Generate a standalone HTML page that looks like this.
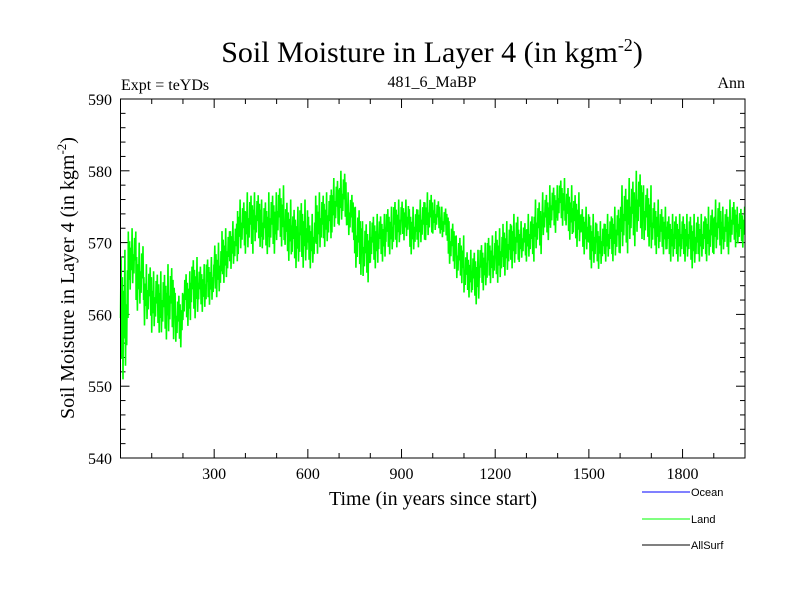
<!DOCTYPE html>
<html><head><meta charset="utf-8"><style>
body{margin:0;background:#fff}
svg{display:block}
text{font-family:"Liberation Serif",serif;fill:#000}
text.sans{font-family:"Liberation Sans",sans-serif}
</style></head><body>
<svg id="chart" width="800" height="600">
<text x="432" y="62" font-size="30" text-anchor="middle">Soil Moisture in Layer 4 (in kgm<tspan dy="-11" font-size="18">-2</tspan><tspan dy="11">)</tspan></text>
<text x="121" y="90" font-size="16">Expt = teYDs</text>
<text x="432" y="87" font-size="16" text-anchor="middle">481_6_MaBP</text>
<text x="745" y="88" font-size="16" text-anchor="end">Ann</text>
<text transform="translate(74,278) rotate(-90)" font-size="20" text-anchor="middle">Soil Moisture in Layer 4 (in kgm<tspan dy="-8" font-size="13">-2</tspan><tspan dy="8">)</tspan></text>
<text x="433" y="505" font-size="20" text-anchor="middle">Time (in years since start)</text>
<g id="axes"></g>
<g id="series"></g>
<rect x="120.5" y="99" width="624.5" height="359" fill="none" stroke="#000" stroke-width="1"/>
<g>
<line x1="642" y1="492" x2="690" y2="492" stroke="#0000ff"/>
<text class="sans" x="691" y="496" font-size="11">Ocean</text>
<line x1="642" y1="519" x2="690" y2="519" stroke="#00ff00"/>
<text class="sans" x="691" y="523" font-size="11">Land</text>
<line x1="642" y1="545" x2="690" y2="545" stroke="#000"/>
<text class="sans" x="691" y="549" font-size="11">AllSurf</text>
</g>
</svg>
<script>
const binStarts=[0,25,50,75,100,125,150,175,200,225,250,275,300,325,350,375,400,425,450,475,500,525,550,575,600,625,650,675,700,725,750,775,800,825,850,875,900,925,950,975,1000,1025,1050,1075,1100,1125,1150,1175,1200,1225,1250,1275,1300,1325,1350,1375,1400,1425,1450,1475,1500,1525,1550,1575,1600,1625,1650,1675,1700,1725,1750,1775,1800,1825,1850,1875,1900,1925,1950,1975];
const landLow=[550,563,560,558,557,556,556,555,558,559,560,561,562,564,566,568,568,569,568,568,569,567,566,566,566,568,569,571,572,570,565,564,566,567,568,569,570,568,569,570,571,570,566,564,562,561,563,564,564,565,566,567,567,568,570,571,572,570,569,568,566,566,567,567,568,569,570,569,568,568,567,567,567,566,567,567,568,568,569,569];
const landHigh=[569,572,570,567,566,566,567,563,566,568,567,568,570,572,573,576,577,577,576,577,578,576,575,576,574,577,577,579,580,577,575,573,574,574,575,576,576,575,576,577,576,575,573,571,569,569,570,571,572,573,574,573,574,576,577,578,579,578,577,575,574,573,574,575,578,579,580,578,576,575,574,574,574,574,574,575,576,575,576,575];
const yTicks=[540,550,560,570,580,590];
const xTicks=[300,600,900,1200,1500,1800];
const X0=0,X1=2000,Y0=540,Y1=590;
const px=v=>120.5+(v-X0)/(X1-X0)*624.5;
const py=v=>458-(v-Y0)/(Y1-Y0)*359;
const NS='http://www.w3.org/2000/svg';
const ax=document.getElementById('axes');
function mk(tag,attrs,parent){const e=document.createElementNS(NS,tag);for(const k in attrs)e.setAttribute(k,attrs[k]);parent.appendChild(e);return e;}
for(let v=Y0;v<=Y1;v+=2){
 const major=(v%10===0);const L=major?9:5;
 const a=mk('line',{x1:120.5,x2:120.5+L,y1:py(v),y2:py(v),stroke:'#000'},ax);
 
 
 const b=mk('line',{x1:745-L,x2:745,y1:py(v),y2:py(v),stroke:'#000'},ax);
 
 
}
yTicks.forEach(v=>{const t=mk('text',{x:112,y:py(v)+6,'font-size':16,'text-anchor':'end'},ax);t.textContent=v;
 
 });
for(let v=100;v<X1;v+=100){
 const major=(v%300===0);const L=major?9:5;
 const a=mk('line',{x1:px(v),x2:px(v),y1:458,y2:458-L,stroke:'#000'},ax);
 
 
 const b=mk('line',{x1:px(v),x2:px(v),y1:99,y2:99+L,stroke:'#000'},ax);
 
 
}
xTicks.forEach(v=>{const t=mk('text',{x:px(v),y:479,'font-size':16,'text-anchor':'middle'},ax);t.textContent=v;
 
 });
const pat=[0.5,0.95,0.2,0.8,0.05,0.7,0.35,1.0,0.15,0.6,0.3,0.85];
let pts=[],k=0;
binStarts.forEach((s,i)=>{
 const lo=landLow[i],hi=landHigh[i];
 for(let y=s;y<s+25;y+=2){
  const f=pat[k%pat.length];k++;
  pts.push(px(y).toFixed(1)+','+py(lo+(hi-lo)*f).toFixed(1));
 }
});
const pl=mk('polyline',{points:pts.join(' '),fill:'none',stroke:'#00ff00','stroke-width':1.6,'stroke-linejoin':'bevel'},document.getElementById('series'));


</script>
</body></html>
